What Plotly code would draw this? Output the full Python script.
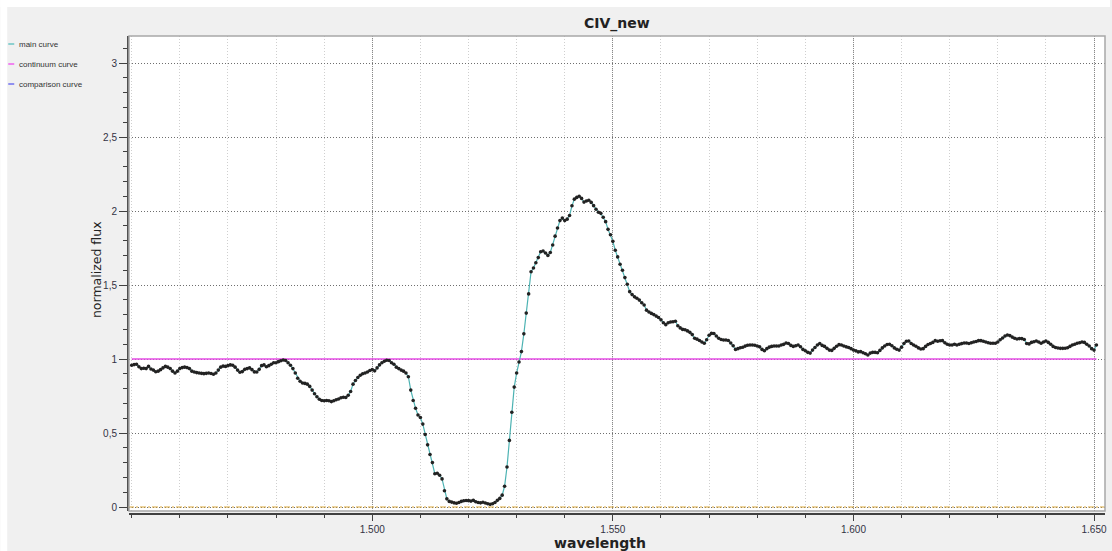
import numpy as np
import plotly.graph_objects as go

# ---------------- data ----------------
wavelength_start = 1.450
wavelength_step = 0.0005

normalized_flux = [
    # 1.450 - 1.4595
    0.958, 0.962, 0.965, 0.948, 0.935, 0.937, 0.935, 0.950, 0.932, 0.925,
    0.914, 0.918, 0.928, 0.940, 0.950, 0.945, 0.935, 0.918, 0.905, 0.918,
    # 1.460
    0.935, 0.942, 0.945, 0.942, 0.935, 0.918, 0.912, 0.908, 0.905, 0.903,
    0.901, 0.903, 0.905, 0.902, 0.897, 0.905, 0.925, 0.945, 0.952, 0.950,
    # 1.470
    0.955, 0.960, 0.958, 0.945, 0.925, 0.910, 0.915, 0.930, 0.935, 0.940,
    0.928, 0.913, 0.912, 0.930, 0.955, 0.960, 0.948, 0.955, 0.965, 0.975,
    # 1.480
    0.975, 0.982, 0.988, 0.993, 0.990, 0.975, 0.958, 0.935, 0.905, 0.870,
    0.850, 0.838, 0.835, 0.830, 0.815, 0.790, 0.765, 0.745, 0.728, 0.720,
    # 1.490
    0.718, 0.720, 0.718, 0.712, 0.718, 0.725, 0.730, 0.738, 0.742, 0.740,
    0.755, 0.780, 0.830, 0.855, 0.875, 0.890, 0.900, 0.905, 0.912, 0.922,
    # 1.500
    0.928, 0.920, 0.940, 0.960, 0.975, 0.985, 0.992, 0.990, 0.975, 0.965,
    0.945, 0.935, 0.925, 0.918, 0.905, 0.880, 0.790, 0.720, 0.667, 0.622,
    # 1.510
    0.605, 0.560, 0.490, 0.420, 0.355, 0.300, 0.225, 0.228, 0.215, 0.190,
    0.110, 0.055, 0.038, 0.033, 0.028, 0.025, 0.030, 0.038, 0.042, 0.044,
    # 1.520
    0.043, 0.040, 0.045, 0.035, 0.030, 0.028, 0.032, 0.027, 0.022, 0.018,
    0.022, 0.030, 0.045, 0.058, 0.080, 0.140, 0.270, 0.450, 0.640, 0.810,
    # 1.530
    0.905, 0.980, 1.050, 1.170, 1.310, 1.440, 1.590, 1.615, 1.650, 1.685,
    1.725, 1.730, 1.716, 1.700, 1.720, 1.770, 1.830, 1.885, 1.935, 1.952,
    # 1.540
    1.935, 1.945, 1.970, 2.035, 2.080, 2.092, 2.100, 2.085, 2.060, 2.068,
    2.073, 2.058, 2.036, 2.012, 1.992, 1.984, 1.958, 1.928, 1.876, 1.840,
    # 1.550
    1.795, 1.735, 1.690, 1.640, 1.600, 1.550, 1.505, 1.455, 1.435, 1.420,
    1.410, 1.398, 1.380, 1.365, 1.330, 1.318, 1.308, 1.300, 1.290, 1.280,
    # 1.560
    1.265, 1.245, 1.232, 1.245, 1.250, 1.252, 1.255, 1.225, 1.210, 1.200,
    1.198, 1.190, 1.180, 1.165, 1.140, 1.134, 1.125, 1.115, 1.106, 1.130,
    # 1.570
    1.160, 1.173, 1.172, 1.155, 1.140, 1.132, 1.128, 1.128, 1.125, 1.108,
    1.090, 1.065, 1.070, 1.076, 1.079, 1.087, 1.093, 1.095, 1.095, 1.093,
    # 1.580
    1.088, 1.082, 1.065, 1.056, 1.070, 1.080, 1.085, 1.088, 1.088, 1.088,
    1.095, 1.099, 1.108, 1.105, 1.092, 1.085, 1.090, 1.095, 1.083, 1.065,
    # 1.590
    1.056, 1.045, 1.040, 1.060, 1.078, 1.095, 1.105, 1.092, 1.085, 1.072,
    1.060, 1.058, 1.072, 1.086, 1.097, 1.095, 1.088, 1.082, 1.078, 1.070,
    # 1.600
    1.061, 1.055, 1.048, 1.050, 1.042, 1.035, 1.027, 1.040, 1.045, 1.045,
    1.042, 1.058, 1.075, 1.088, 1.098, 1.100, 1.090, 1.075, 1.066, 1.060,
    # 1.610
    1.080, 1.105, 1.120, 1.122, 1.105, 1.095, 1.086, 1.075, 1.068, 1.070,
    1.085, 1.098, 1.105, 1.112, 1.124, 1.120, 1.123, 1.124, 1.110, 1.100,
    # 1.620
    1.095, 1.095, 1.100, 1.095, 1.100, 1.104, 1.108, 1.108, 1.105, 1.110,
    1.115, 1.118, 1.124, 1.124, 1.120, 1.115, 1.110, 1.106, 1.106, 1.106,
    # 1.630
    1.115, 1.130, 1.142, 1.155, 1.162, 1.158, 1.148, 1.140, 1.135, 1.138,
    1.138, 1.132, 1.105, 1.102, 1.112, 1.117, 1.122, 1.115, 1.106, 1.115,
    # 1.640
    1.122, 1.112, 1.100, 1.085, 1.078, 1.074, 1.072, 1.072, 1.073, 1.076,
    1.085, 1.095, 1.100, 1.106, 1.110, 1.115, 1.112, 1.100, 1.088, 1.070,
    # 1.650
    1.060, 1.095,
]

continuum_level = 1.0

x_tick_values = [1.50, 1.55, 1.60, 1.65]
x_tick_labels = ["1.500", "1.550", "1.600", "1.650"]
y_tick_values = [0, 0.5, 1, 1.5, 2, 2.5, 3]
y_tick_labels = ["0", "0,5", "1", "1,5", "2", "2,5", "3"]

legend_names = ["main curve", "continuum curve", "comparison curve"]
legend_colors = ["#6cc6c6", "#f060f0", "#7070f0"]

title_text = "CIV_new"
x_title = "wavelength"
y_title = "normalized flux"

# ---------------- figure ----------------
wavelength = np.round(wavelength_start + wavelength_step * np.arange(len(normalized_flux)), 4)

W, H = 1112, 551
ML, MR, MT, MB = 128, 5, 36, 37
PW = W - ML - MR
PH = H - MT - MB


def px_x(px):
    return (px - ML) / PW


def px_y(py):
    return (H - MB - py) / PH


fig = go.Figure()

# continuum curve
fig.add_trace(go.Scatter(
    x=[wavelength[0], wavelength[-1]], y=[continuum_level, continuum_level],
    mode="lines", line=dict(color="#e64ce6", width=1.6),
    showlegend=False, hoverinfo="skip"))

# main curve
fig.add_trace(go.Scatter(
    x=wavelength, y=normalized_flux, mode="lines+markers",
    line=dict(color="#4db3b3", width=1.2),
    marker=dict(color="#222222", size=3.6, symbol="circle"),
    showlegend=False))

# zero line (dash-dot orange)
fig.add_shape(type="line", xref="paper", yref="y", x0=0, x1=1, y0=0, y1=0,
              line=dict(color="#d9a83c", width=1.2, dash="6px,2px,2px,2px"), layer="above")

# plot frame
fig.add_shape(type="rect", xref="paper", yref="paper",
              x0=px_x(129), x1=1, y0=px_y(511), y1=1,
              line=dict(color="#a8a8a8", width=1.5), layer="above")

# white strips at top and left edge
fig.add_shape(type="rect", xref="paper", yref="paper",
              x0=px_x(0), x1=px_x(W), y0=px_y(7), y1=px_y(0),
              line=dict(width=0), fillcolor="white", layer="below")
fig.add_shape(type="rect", xref="paper", yref="paper",
              x0=px_x(0), x1=px_x(7), y0=px_y(H), y1=px_y(0),
              line=dict(width=0), fillcolor="white", layer="below")

# legend (drawn manually)
for i, (name, col) in enumerate(zip(legend_names, legend_colors)):
    yy = 44 + 20 * i
    fig.add_shape(type="line", xref="paper", yref="paper",
                  x0=px_x(8), x1=px_x(14), y0=px_y(yy), y1=px_y(yy),
                  line=dict(color=col, width=1.5))
    fig.add_annotation(xref="paper", yref="paper", x=px_x(17), y=px_y(yy),
                       text=name, showarrow=False, xanchor="left", yanchor="middle",
                       font=dict(family="Liberation Sans", size=8, color="#333333"))

# titles
fig.add_annotation(xref="paper", yref="paper", x=px_x(618), y=px_y(23),
                   text="<b>%s</b>" % title_text, showarrow=False,
                   xanchor="center", yanchor="middle",
                   font=dict(family="DejaVu Sans", size=14, color="#222222"))
fig.add_annotation(xref="paper", yref="paper", x=px_x(601), y=px_y(543),
                   text="<b>%s</b>" % x_title, showarrow=False,
                   xanchor="center", yanchor="middle",
                   font=dict(family="DejaVu Sans", size=14, color="#222222"))
fig.add_annotation(xref="paper", yref="paper", x=px_x(96), y=px_y(270),
                   text=y_title, showarrow=False, textangle=-90,
                   xanchor="center", yanchor="middle",
                   font=dict(family="DejaVu Sans", size=12.5, color="#222222"))

x0 = 1.5 - (372.7 - 129) / 4820
x1 = 1.65 + (1107 - 1096) / 4820
y0 = -(511 - 507) / 148
y1 = 3 + (63 - 36) / 148

fig.update_layout(
    width=W, height=H,
    margin=dict(l=ML, r=MR, t=MT, b=MB, pad=0),
    paper_bgcolor="#f0f0f0",
    plot_bgcolor="white",
    showlegend=False,
    xaxis=dict(
        domain=[px_x(129), 1], anchor="free", position=0,
        range=[x0, x1], tickmode="array", tickvals=x_tick_values, ticktext=x_tick_labels,
        ticks="outside", ticklen=6, tickwidth=1, tickcolor="#404040",
        showline=True, linecolor="#404040", linewidth=2,
        showgrid=True, gridcolor="#8a8a8a", gridwidth=1, griddash="1px,1px",
        zeroline=False,
        tickfont=dict(family="Liberation Sans", size=10, color="#333344"),
        minor=dict(tickmode="linear", tick0=1.45, dtick=0.01, ticks="outside", ticklen=3,
                   tickcolor="#404040", showgrid=True, gridcolor="#cfcfcf",
                   griddash="1px,2px", gridwidth=1),
    ),
    yaxis=dict(
        domain=[px_y(511), 1], anchor="free", position=0,
        range=[y0, y1], tickmode="array", tickvals=y_tick_values, ticktext=y_tick_labels,
        ticks="outside", ticklen=8, tickwidth=1, tickcolor="#404040",
        showline=True, linecolor="#505050", linewidth=2,
        showgrid=True, gridcolor="#6e6e6e", gridwidth=1, griddash="1px,2px",
        zeroline=False,
        tickfont=dict(family="Liberation Sans", size=10, color="#333344"),
        minor=dict(tickmode="linear", tick0=0, dtick=0.1, ticks="outside", ticklen=4,
                   tickcolor="#404040", showgrid=False),
    ),
)

fig.write_html("out.html")
